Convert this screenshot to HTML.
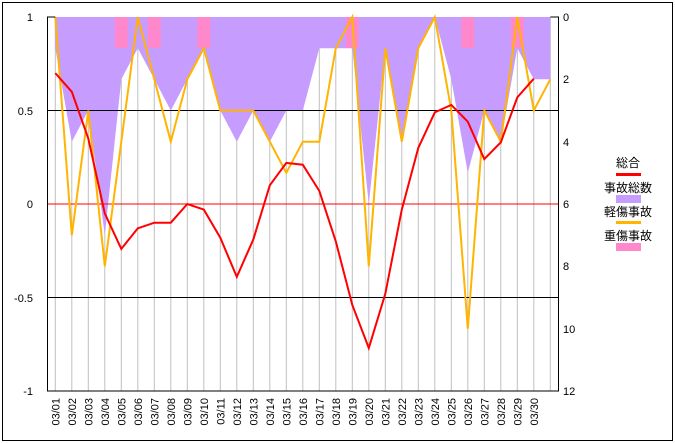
<!DOCTYPE html>
<html><head><meta charset="utf-8"><style>
html,body{margin:0;padding:0;background:#fff}
svg{display:block;font-family:"Liberation Sans","Noto Sans CJK JP",sans-serif}
</style></head><body>
<svg width="675" height="443" viewBox="0 0 675 443" xmlns="http://www.w3.org/2000/svg">
<rect x="2.5" y="2.5" width="670" height="438" fill="#fff" stroke="#000" stroke-width="1"/>
<g stroke="#c0c0c0" stroke-width="1">
<line x1="55.3" y1="17" x2="55.3" y2="391"/><line x1="71.8" y1="17" x2="71.8" y2="391"/><line x1="88.3" y1="17" x2="88.3" y2="391"/><line x1="104.8" y1="17" x2="104.8" y2="391"/><line x1="121.3" y1="17" x2="121.3" y2="391"/><line x1="137.8" y1="17" x2="137.8" y2="391"/><line x1="154.3" y1="17" x2="154.3" y2="391"/><line x1="170.8" y1="17" x2="170.8" y2="391"/><line x1="187.3" y1="17" x2="187.3" y2="391"/><line x1="203.8" y1="17" x2="203.8" y2="391"/><line x1="220.3" y1="17" x2="220.3" y2="391"/><line x1="236.8" y1="17" x2="236.8" y2="391"/><line x1="253.3" y1="17" x2="253.3" y2="391"/><line x1="269.8" y1="17" x2="269.8" y2="391"/><line x1="286.3" y1="17" x2="286.3" y2="391"/><line x1="302.8" y1="17" x2="302.8" y2="391"/><line x1="319.3" y1="17" x2="319.3" y2="391"/><line x1="335.8" y1="17" x2="335.8" y2="391"/><line x1="352.3" y1="17" x2="352.3" y2="391"/><line x1="368.8" y1="17" x2="368.8" y2="391"/><line x1="385.3" y1="17" x2="385.3" y2="391"/><line x1="401.8" y1="17" x2="401.8" y2="391"/><line x1="418.3" y1="17" x2="418.3" y2="391"/><line x1="434.8" y1="17" x2="434.8" y2="391"/><line x1="451.3" y1="17" x2="451.3" y2="391"/><line x1="467.8" y1="17" x2="467.8" y2="391"/><line x1="484.3" y1="17" x2="484.3" y2="391"/><line x1="500.8" y1="17" x2="500.8" y2="391"/><line x1="517.3" y1="17" x2="517.3" y2="391"/><line x1="533.8" y1="17" x2="533.8" y2="391"/><line x1="550.3" y1="17" x2="550.3" y2="391"/>
</g>
<polygon fill="#c79cff" points="55.3,17 55.3,48.2 71.8,141.7 88.3,110.5 104.8,235.2 121.3,79.3 137.8,48.2 154.3,79.3 170.8,110.5 187.3,79.3 203.8,48.2 220.3,110.5 236.8,141.7 253.3,110.5 269.8,141.7 286.3,110.5 302.8,110.5 319.3,48.2 335.8,48.2 352.3,48.2 368.8,204 385.3,48.2 401.8,141.7 418.3,48.2 434.8,17 451.3,79.3 467.8,172.8 484.3,110.5 500.8,141.7 517.3,48.2 533.8,79.3 550.3,79.3 550.3,17"/>
<g fill="#ff88cc">
<rect x="114.8" y="17" width="13" height="31"/><rect x="147.8" y="17" width="13" height="31"/><rect x="197.3" y="17" width="13" height="31"/><rect x="345.8" y="17" width="13" height="31"/><rect x="461.3" y="17" width="13" height="31"/><rect x="510.8" y="17" width="13" height="31"/>
</g>
<line x1="47.5" y1="110.5" x2="558.5" y2="110.5" stroke="#000"/>
<line x1="47.5" y1="297.5" x2="558.5" y2="297.5" stroke="#000"/>
<line x1="47.5" y1="204" x2="558.5" y2="204" stroke="#ff0000"/>
<polyline fill="none" stroke="#ffb400" stroke-width="2" points="55.3,17 71.8,235.2 88.3,110.5 104.8,266.3 121.3,141.7 137.8,17 154.3,79.3 170.8,141.7 187.3,79.3 203.8,48.2 220.3,110.5 236.8,110.5 253.3,110.5 269.8,141.7 286.3,172.8 302.8,141.7 319.3,141.7 335.8,48.2 352.3,17 368.8,266.3 385.3,48.2 401.8,141.7 418.3,48.2 434.8,17 451.3,110.5 467.8,328.7 484.3,110.5 500.8,141.7 517.3,17 533.8,110.5 550.3,79.3"/>
<polyline fill="none" stroke="#ff0000" stroke-width="2" points="55.3,73.1 71.8,91.8 88.3,138.5 104.8,213.4 121.3,248.9 137.8,228.3 154.3,222.7 170.8,222.7 187.3,204 203.8,209.6 220.3,237.7 236.8,276.9 253.3,239.5 269.8,185.3 286.3,162.9 302.8,164.7 319.3,190.9 335.8,241.4 352.3,305 368.8,348 385.3,293.8 401.8,209.6 418.3,147.9 434.8,112.4 451.3,104.9 467.8,121.7 484.3,159.1 500.8,142.3 517.3,97.4 533.8,78.7"/>
<polyline fill="none" stroke="#000" stroke-width="1" points="55.3,17 47.5,17 47.5,391 558.5,391 558.5,17 550.3,17"/>
<g font-size="11" fill="#000" text-anchor="end">
<text x="33" y="21">1</text><text x="33" y="115">0.5</text><text x="33" y="208">0</text><text x="33" y="302">-0.5</text><text x="33" y="395">-1</text>
</g>
<g font-size="11" fill="#000" text-anchor="start">
<text x="563" y="21">0</text><text x="563" y="83">2</text><text x="563" y="146">4</text><text x="563" y="208">6</text><text x="563" y="270">8</text><text x="563" y="333">10</text><text x="563" y="395">12</text>
</g>
<g font-size="11" fill="#000" text-anchor="end">
<text transform="translate(59.3,398) rotate(-90)">03/01</text><text transform="translate(75.8,398) rotate(-90)">03/02</text><text transform="translate(92.3,398) rotate(-90)">03/03</text><text transform="translate(108.8,398) rotate(-90)">03/04</text><text transform="translate(125.3,398) rotate(-90)">03/05</text><text transform="translate(141.8,398) rotate(-90)">03/06</text><text transform="translate(158.3,398) rotate(-90)">03/07</text><text transform="translate(174.8,398) rotate(-90)">03/08</text><text transform="translate(191.3,398) rotate(-90)">03/09</text><text transform="translate(207.8,398) rotate(-90)">03/10</text><text transform="translate(224.3,398) rotate(-90)">03/11</text><text transform="translate(240.8,398) rotate(-90)">03/12</text><text transform="translate(257.3,398) rotate(-90)">03/13</text><text transform="translate(273.8,398) rotate(-90)">03/14</text><text transform="translate(290.3,398) rotate(-90)">03/15</text><text transform="translate(306.8,398) rotate(-90)">03/16</text><text transform="translate(323.3,398) rotate(-90)">03/17</text><text transform="translate(339.8,398) rotate(-90)">03/18</text><text transform="translate(356.3,398) rotate(-90)">03/19</text><text transform="translate(372.8,398) rotate(-90)">03/20</text><text transform="translate(389.3,398) rotate(-90)">03/21</text><text transform="translate(405.8,398) rotate(-90)">03/22</text><text transform="translate(422.3,398) rotate(-90)">03/23</text><text transform="translate(438.8,398) rotate(-90)">03/24</text><text transform="translate(455.3,398) rotate(-90)">03/25</text><text transform="translate(471.8,398) rotate(-90)">03/26</text><text transform="translate(488.3,398) rotate(-90)">03/27</text><text transform="translate(504.8,398) rotate(-90)">03/28</text><text transform="translate(521.3,398) rotate(-90)">03/29</text><text transform="translate(537.8,398) rotate(-90)">03/30</text>
</g>
<g font-size="12" fill="#000" text-anchor="middle">
<text x="628" y="167">総合</text>
<text x="628" y="192">事故総数</text>
<text x="628" y="216">軽傷事故</text>
<text x="628" y="240">重傷事故</text>
</g>
<rect x="616" y="173" width="25" height="3" fill="#ff0000"/>
<rect x="616" y="195" width="25" height="8" fill="#c79cff"/>
<rect x="616" y="221" width="25" height="3" fill="#ffb400"/>
<rect x="616" y="243" width="25" height="8" fill="#ff88cc"/>
</svg>
</body></html>
